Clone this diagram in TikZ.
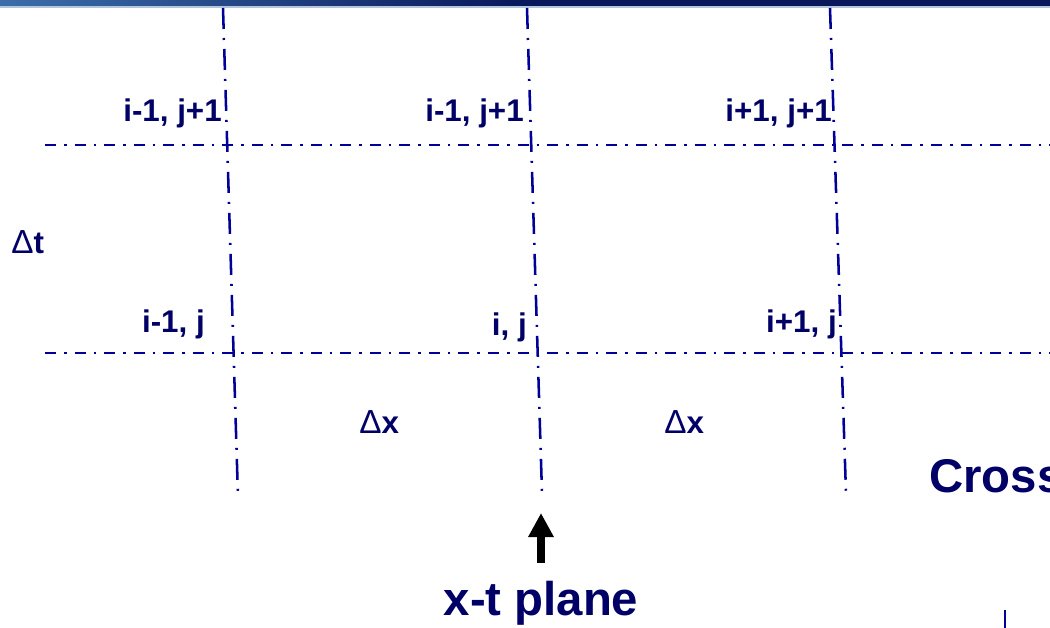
\documentclass[tikz,border=0pt]{standalone}
\usepackage{fontspec}
\setmainfont{Liberation Sans}
\usetikzlibrary{arrows.meta}
\definecolor{navytext}{RGB}{0,0,102}
\definecolor{gridblue}{RGB}{0,0,150}
\definecolor{bardark}{RGB}{8,24,90}
\definecolor{barlight}{RGB}{60,110,170}
\tikzset{
  hline/.style={draw=gridblue, line width=1.9pt, dash pattern=on 8.25pt off 6pt on 1.9pt off 6pt},
  vline/.style={draw=gridblue, line width=1.9pt, dash pattern=on 15.75pt off 6.75pt on 1.5pt off 6.75pt},
  lab/.style={text=navytext, font=\fontsize{23.5}{28}\selectfont\bfseries, inner sep=0pt, anchor=base east},
  dlab/.style={text=navytext, font=\fontsize{23.5}{28}\selectfont, inner sep=0pt, anchor=base west},
  big/.style={text=navytext, font=\fontsize{35.5}{42}\selectfont\bfseries, inner sep=0pt, anchor=base west},
}
\newcommand{\mydelta}{{\fontsize{25}{28}\selectfont Δ}}
\begin{document}
\begin{tikzpicture}[x=0.75pt,y=-0.75pt]
\useasboundingbox (0,0) rectangle (1050,628);
% top bar
\shade[left color=barlight, right color=bardark, middle color=bardark] (0,0) rectangle (1050,6);
\fill[barlight!40] (0,6) rectangle (1050,7.5);
% grid coordinates
\coordinate (v1t) at (223,8);  \coordinate (v1b) at (238,497);
\coordinate (v2t) at (527,8);  \coordinate (v2b) at (542,493);
\coordinate (v3t) at (830,8);  \coordinate (v3b) at (846,493);
\coordinate (h1l) at (45,145); \coordinate (h1r) at (1050,145);
\coordinate (h2l) at (45,353); \coordinate (h2r) at (1050,353);
\draw[vline] (v1t) -- (v1b);
\draw[vline] (v2t) -- (v2b);
\draw[vline] (v3t) -- (v3b);
\draw[hline] (h1l) -- (h1r);
\draw[hline] (h2l) -- (h2r);
% labels
\node[lab] (a1) at (222,121) {i-1, j+1};
\node[lab] (a2) at (524,121) {i-1, j+1};
\node[lab] (a3) at (832,121) {i+1, j+1};
\node[lab] (b1) at (205,332) {i-1, j};
\node[lab] (b2) at (527,335) {i, j};
\node[lab] (b3) at (837,332) {i+1, j};
\node[dlab] (dt) at (11,253) {\mydelta\textbf{t}};
\node[dlab] (dx1) at (359,433) {\mydelta\textbf{x}};
\node[dlab] (dx2) at (664,433) {\mydelta\textbf{x}};
\node[big] (cross) at (929,492) {Cross};
\node[big, anchor=base] (plane) at (541,615) {x-t plane};
% arrow
\coordinate (arrs) at (541,563);
\coordinate (arre) at (541,513);
\draw[line width=6pt, -{Triangle[width=18pt,length=18pt]}] (arrs) -- (arre);
% small line bottom right
\coordinate (s1) at (1005,610);
\coordinate (s2) at (1005,628);
\draw[gridblue, line width=1.8pt] (s1) -- (s2);
\end{tikzpicture}
\end{document}
